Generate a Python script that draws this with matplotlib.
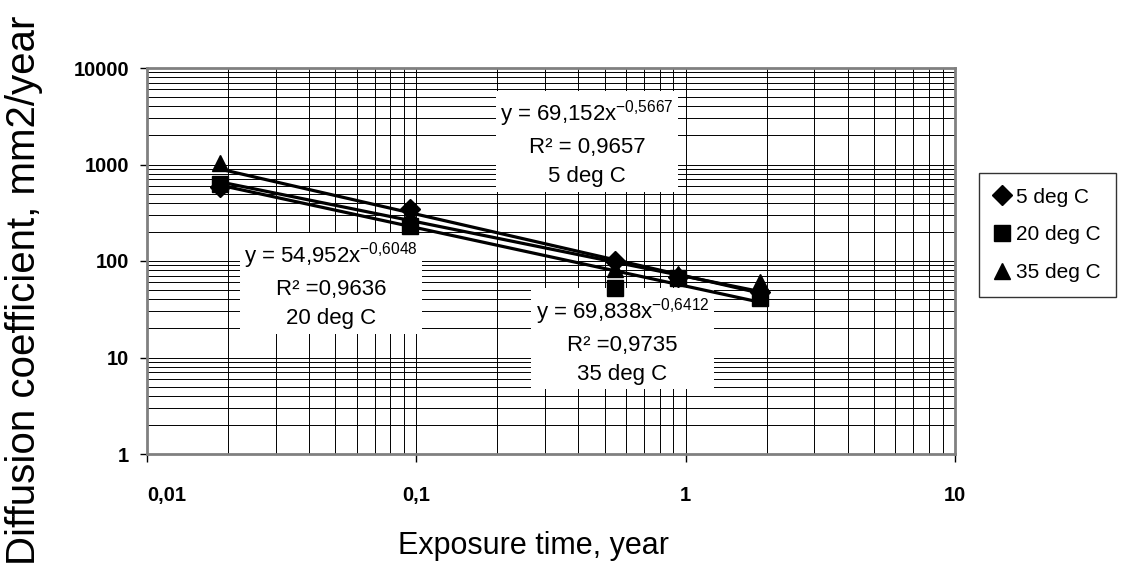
import numpy as np
import matplotlib
matplotlib.use("Agg")
import matplotlib.pyplot as plt
from matplotlib.ticker import LogLocator, FixedLocator, FixedFormatter, NullFormatter

plt.rcParams["font.family"] = ["Liberation Sans", "DejaVu Sans"]
plt.rcParams["mathtext.fontset"] = "custom"
plt.rcParams["mathtext.rm"] = "Liberation Sans"
plt.rcParams["mathtext.it"] = "Liberation Sans:italic"
plt.rcParams["mathtext.bf"] = "Liberation Sans:bold"

# exposure time (years) and measured diffusion coefficients (mm2/year)
time_years = [0.0187, 0.0946, 0.546, 0.934, 1.88]
d_5deg = [585, 345, 100, 68, 48]
d_20deg = [635, 231, 53, 67, 41]
d_35deg = [1030, 300, 82, 73, 60]

series_labels = ["5 deg C", "20 deg C", "35 deg C"]
series_markers = ["D", "s", "^"]

# power-law trend fits y = a * x^b
fit_a = [69.152, 54.952, 69.838]
fit_b = [-0.5667, -0.6048, -0.6412]
fit_r2 = ["= 0,9657", "=0,9636", "=0,9735"]
fit_a_text = ["69,152", "54,952", "69,838"]
fit_b_text = ["-0{,}5667", "-0{,}6048", "-0{,}6412"]

x_ticks = [0.01, 0.1, 1, 10]
x_tick_labels = ["0,01", "0,1", "1", "10"]
y_ticks = [1, 10, 100, 1000, 10000]
y_tick_labels = ["1", "10", "100", "1000", "10000"]

fig = plt.figure(figsize=(11.21, 5.70), dpi=100)
ax = fig.add_axes([147 / 1121, 1 - 454 / 570, 808 / 1121, 386 / 570])
ax.set_xscale("log")
ax.set_yscale("log")
ax.set_xlim(0.01, 10)
ax.set_ylim(1, 10000)

ax.xaxis.set_major_locator(FixedLocator(x_ticks))
ax.xaxis.set_major_formatter(FixedFormatter(x_tick_labels))
ax.yaxis.set_major_locator(FixedLocator(y_ticks))
ax.yaxis.set_major_formatter(FixedFormatter(y_tick_labels))
ax.xaxis.set_minor_locator(LogLocator(base=10, subs=np.arange(2, 10)))
ax.yaxis.set_minor_locator(LogLocator(base=10, subs=np.arange(2, 10)))
ax.xaxis.set_minor_formatter(NullFormatter())
ax.yaxis.set_minor_formatter(NullFormatter())

ax.grid(which="both", color="black", linewidth=0.7, zorder=0.5)
ax.set_axisbelow(True)
ax.tick_params(which="minor", length=0)
ax.tick_params(axis="x", which="major", direction="out", length=6, width=1,
               pad=17, labelsize=14.5)
ax.tick_params(axis="y", which="major", direction="out", length=5, width=1,
               pad=8, labelsize=14.5)
for lab in ax.get_xticklabels() + ax.get_yticklabels():
    lab.set_fontweight("bold")
# first x label starts at the axis corner
ax.get_xticklabels()[0].set_horizontalalignment("left")
for sp in ax.spines.values():
    sp.set_color("#808080")
    sp.set_linewidth(2)

series = [d_5deg, d_20deg, d_35deg]
xs = np.logspace(np.log10(time_years[0]), np.log10(time_years[-1]), 200)
for a, b in zip(fit_a, fit_b):
    ax.plot(xs, a * xs ** b, color="black", linewidth=2.3, zorder=3)

handles = []
for vals, mk, lab in zip(series, series_markers, series_labels):
    ms = 10 if mk == "D" else 12
    h, = ax.plot(time_years, vals, linestyle="none", marker=mk, markersize=ms,
                 color="black", label=lab, zorder=4)
    handles.append(h)

# equation boxes
label_pos = [(0.43, 1670), (0.0482, 56.5), (0.583, 15.0)]
for (px, py), at, bt, r2, lab in zip(label_pos, fit_a_text, fit_b_text, fit_r2, series_labels):
    txt = "y = %sx$^{\\mathrm{%s}}$\nR² %s\n%s" % (at, bt, r2, lab)
    ax.text(px, py, txt, ha="center", va="center", multialignment="center",
            fontsize=16, linespacing=1.5, zorder=2,
            bbox=dict(facecolor="white", edgecolor="none", pad=3))

leg = ax.legend(handles=handles, loc="upper left",
                bbox_to_anchor=(979 / 1121, 1 - 173 / 570),
                bbox_transform=fig.transFigure, borderaxespad=0,
                fontsize=15, frameon=True, fancybox=False, edgecolor="black",
                handlelength=0.8, handletextpad=0.3, labelspacing=0.9,
                borderpad=0.7)
leg.get_frame().set_linewidth(1)

fig.text(533 / 1121, 1 - 546 / 570, "Exposure time, year",
         ha="center", va="center", fontsize=22)
fig.text(24 / 1121, 1 - 565 / 570, "Diffusion coefficient, mm2/year",
         rotation=90, ha="center", va="bottom", fontsize=29)

fig.savefig("out.png", dpi=100, facecolor="white")
